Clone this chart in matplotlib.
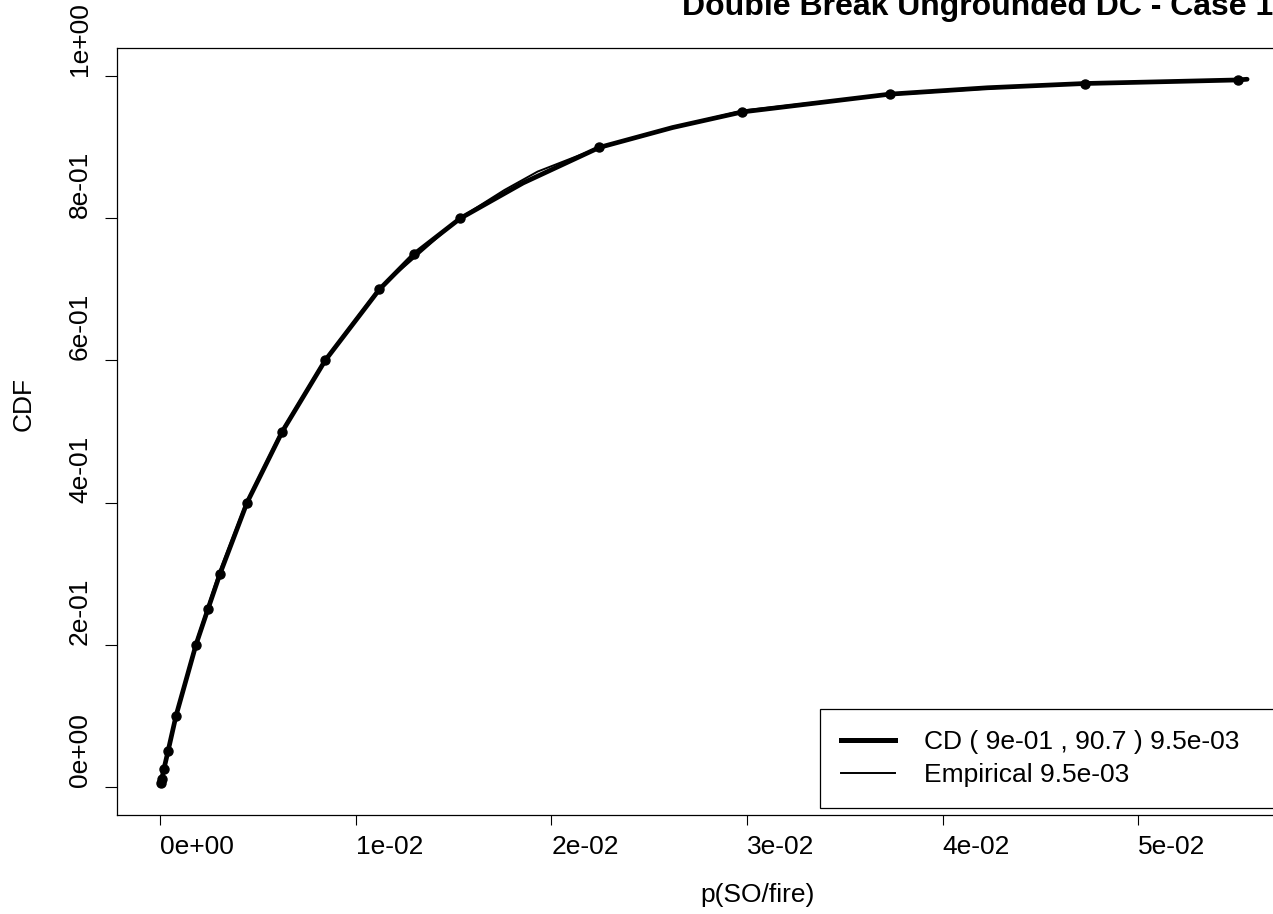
import matplotlib.pyplot as plt
from matplotlib.lines import Line2D

plt.rcParams['font.family'] = ['Liberation Sans', 'DejaVu Sans']

# quantile points of the fitted CD distribution
q_prob = [0.005, 0.01, 0.025, 0.05, 0.1, 0.2, 0.25, 0.3, 0.4, 0.5,
          0.6, 0.7, 0.75, 0.8, 0.9, 0.95, 0.975, 0.99, 0.995]
q_x = [0.00003, 0.00008, 0.00020, 0.00041, 0.00082, 0.00184, 0.00245, 0.00307, 0.00445, 0.00625,
       0.00844, 0.01121, 0.01300, 0.01534, 0.02246, 0.02977, 0.03730, 0.04726, 0.05508]

# fitted CD curve
cd_x = [0.00000, 0.00003, 0.00008, 0.00020, 0.00041, 0.00082, 0.00184, 0.00245, 0.00307,
        0.00445, 0.00625, 0.00844, 0.01121, 0.01300, 0.01534, 0.01856, 0.02246, 0.02620,
        0.02977, 0.03730, 0.04230, 0.04726, 0.05200, 0.05508, 0.05557]
cd_p = [0.002, 0.005, 0.010, 0.025, 0.050, 0.100, 0.200, 0.250, 0.300,
        0.400, 0.500, 0.600, 0.700, 0.750, 0.800, 0.850, 0.900, 0.928,
        0.950, 0.975, 0.984, 0.990, 0.993, 0.995, 0.996]

# empirical CDF
emp_x = [0.00000, 0.00020, 0.00082, 0.00180, 0.00300, 0.00440, 0.00620, 0.00840, 0.01115,
         0.01530, 0.01760, 0.01930, 0.02246, 0.02650, 0.02980, 0.03400, 0.03730, 0.04300,
         0.04726, 0.05508]
emp_p = [0.003, 0.025, 0.100, 0.200, 0.300, 0.400, 0.500, 0.600, 0.700,
         0.800, 0.840, 0.866, 0.900, 0.930, 0.952, 0.965, 0.974, 0.984,
         0.990, 0.995]

x_ticks = [0.0, 0.01, 0.02, 0.03, 0.04, 0.05]
x_labels = ["0e+00", "1e-02", "2e-02", "3e-02", "4e-02", "5e-02"]
y_ticks = [0.0, 0.2, 0.4, 0.6, 0.8, 1.0]
y_labels = ["0e+00", "2e-01", "4e-01", "6e-01", "8e-01", "1e+00"]

legend_labels = ["CD ( 9e-01 , 90.7 ) 9.5e-03", "Empirical 9.5e-03"]

W, H = 1273, 914
fs = 19

fig = plt.figure(figsize=(W / 100, H / 100), dpi=100)
ax = fig.add_axes([117 / W, (H - 815) / H, (1279 - 117) / W, (815 - 48) / H])

ax.plot(cd_x, cd_p, color="black", lw=3.4, solid_capstyle="round")
ax.plot(emp_x, emp_p, color="black", lw=1.4)
ax.plot(q_x, q_prob, "o", color="black", ms=6.5)

ax.set_xlim(-0.0022, 0.0572)
ax.set_ylim(-0.04, 1.04)

ax.set_xticks(x_ticks)
ax.set_xticklabels(x_labels, ha="left")
ax.set_yticks(y_ticks)
ax.set_yticklabels(y_labels, rotation=90, va="bottom")
ax.tick_params(axis="x", length=7.5, width=0.8, labelsize=fs, pad=7)
ax.tick_params(axis="y", length=9, width=0.8, labelsize=fs, pad=9)

for s in ax.spines.values():
    s.set_linewidth(0.9)

fig.text(682 / W, (H - 15) / H, "Double Break Ungrounded DC - Case 1",
         fontsize=23, fontweight="bold", ha="left", va="baseline")
fig.text(700 / W, (H - 902) / H, "p(SO/fire)", fontsize=fs, ha="left", va="baseline")
fig.text(36 / W, (H - 431) / H, "CDF", fontsize=fs, rotation=90,
         ha="right", va="bottom")

handles = [Line2D([], [], color="black", lw=3.6), Line2D([], [], color="black", lw=1.4)]
leg = ax.legend(handles, legend_labels, loc="upper left",
                bbox_to_anchor=(820 / W, (H - 709) / H, 470 / W, 0.0),
                bbox_transform=fig.transFigure, mode="expand", borderaxespad=0,
                fontsize=fs, frameon=True, fancybox=False, framealpha=1,
                edgecolor="black", borderpad=0.8, labelspacing=0.35,
                handlelength=2.05, handletextpad=1.1)
leg.get_frame().set_linewidth(0.9)

fig.savefig("out.png", dpi=100)
